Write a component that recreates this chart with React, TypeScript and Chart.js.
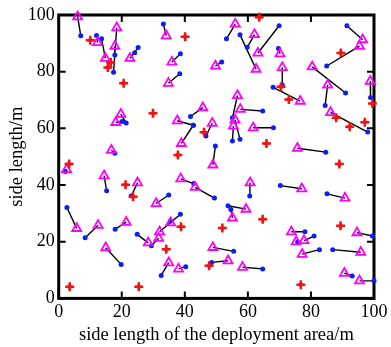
import { useEffect, useRef } from 'react';
import { Chart, registerables } from 'chart.js';

Chart.register(...registerables);

const xTicks = [0, 20, 40, 60, 80, 100];
const yTicks = [0, 20, 40, 60, 80, 100];

// triangles (anchor) and their linked blue nodes, pairwise
const triX = [6.0, 12.3, 14.8, 18.4, 17.8, 22.6, 19.7, 18.1, 16.7, 2.5, 14.4, 34.1, 35.9, 34.8, 37.6, 38.9, 45.7, 48.7, 48.9, 49.7, 56.0, 62.1, 62.6, 63.2, 70.2, 70.9, 76.6, 56.7, 57.6, 55.9, 55.4, 61.7, 75.7, 96.4, 95.4, 80.4, 85.3, 98.8, 86.2, 38.7, 43.3, 25.0, 30.9, 35.5, 32.0, 31.7, 28.4, 34.9, 38.0, 48.9, 53.7, 60.7, 77.1, 90.8, 59.4, 55.1, 73.8, 75.3, 77.8, 77.2, 95.8, 94.6, 90.6, 95.4, 58.3, 5.7, 12.5, 21.4, 14.9];
const triY = [99.4, 90.3, 84.7, 95.5, 89.0, 84.7, 65.0, 62.1, 52.3, 45.5, 43.3, 92.7, 83.4, 75.9, 62.7, 54.7, 67.3, 61.8, 47.1, 82.0, 96.8, 93.1, 80.9, 86.6, 86.3, 81.5, 69.6, 71.6, 66.7, 63.0, 60.8, 60.2, 53.0, 91.3, 89.0, 81.7, 75.3, 76.6, 65.6, 42.2, 39.2, 40.8, 33.5, 26.7, 23.5, 21.2, 19.6, 12.6, 10.4, 18.0, 13.3, 40.8, 38.7, 35.4, 31.5, 28.4, 23.5, 20.0, 20.4, 15.6, 16.3, 23.2, 8.9, 6.2, 11.0, 24.7, 25.8, 26.9, 17.9];
const dotX = [7.0, 12.0, 13.6, 17.4, 17.8, 25.2, 21.4, 20.1, 17.8, 2.1, 15.2, 33.2, 38.6, 38.4, 42.7, 42.7, 41.8, 46.7, 49.7, 51.7, 53.2, 59.8, 57.5, 69.9, 69.7, 70.9, 68.0, 55.1, 64.7, 57.5, 55.1, 68.1, 84.7, 91.4, 85.0, 91.0, 84.5, 98.9, 98.0, 42.8, 49.4, 23.0, 34.9, 35.4, 38.6, 29.4, 24.9, 32.5, 40.3, 55.5, 48.5, 60.6, 70.3, 85.1, 53.7, 54.6, 78.1, 75.8, 81.0, 82.7, 86.9, 99.5, 93.1, 100.0, 64.7, 2.6, 8.4, 17.9, 19.8];
const dotY = [92.7, 92.8, 91.6, 79.8, 85.9, 88.5, 61.9, 62.4, 51.2, 44.8, 38.0, 96.8, 86.3, 79.3, 61.1, 61.1, 64.2, 57.3, 53.8, 83.4, 91.6, 88.6, 93.0, 96.2, 88.2, 75.3, 74.5, 63.7, 66.1, 56.2, 55.5, 60.2, 51.6, 96.2, 82.0, 72.5, 68.1, 70.9, 58.7, 40.5, 35.4, 36.1, 36.5, 27.2, 29.7, 18.6, 22.6, 8.1, 11.2, 16.6, 12.7, 36.1, 39.8, 36.9, 32.7, 31.4, 23.5, 19.9, 22.0, 17.2, 17.2, 22.0, 7.9, 6.2, 10.4, 32.1, 21.4, 24.4, 12.0];
const extraDotX = [24.1];
const extraDotY = [86.7];

// red star markers
const starX = [10.0, 15.6, 16.5, 20.6, 29.9, 3.3, 40.1, 37.8, 46.1, 63.6, 70.5, 73.0, 65.9, 89.0, 89.5, 99.5, 88.0, 92.3, 97.1, 21.2, 23.6, 38.8, 34.1, 25.4, 47.7, 64.7, 51.9, 89.4, 76.8, 3.5];
const starY = [91.1, 81.5, 83.3, 75.9, 65.3, 47.4, 92.3, 50.6, 58.6, 99.2, 74.7, 70.2, 54.7, 47.4, 86.6, 68.8, 63.7, 60.6, 62.2, 40.1, 35.9, 25.3, 17.3, 4.1, 11.5, 27.9, 24.8, 25.6, 4.8, 4.1];

const FONT = '"Liberation Serif", "Times New Roman", serif';

const framePlugin = {
  id: 'frame',
  beforeDatasetsDraw(chart: any) {
    const { ctx, chartArea: a, scales } = chart;
    ctx.save();
    ctx.strokeStyle = '#000';
    ctx.lineWidth = 2;
    const len = 7;
    for (const v of xTicks) {
      const px = scales.x.getPixelForValue(v);
      ctx.beginPath();
      ctx.moveTo(px, a.bottom);
      ctx.lineTo(px, a.bottom - len);
      ctx.moveTo(px, a.top);
      ctx.lineTo(px, a.top + len);
      ctx.stroke();
    }
    for (const v of yTicks) {
      const py = scales.y.getPixelForValue(v);
      ctx.beginPath();
      ctx.moveTo(a.left, py);
      ctx.lineTo(a.left + len, py);
      ctx.moveTo(a.right, py);
      ctx.lineTo(a.right - len, py);
      ctx.stroke();
    }
    ctx.lineWidth = 3;
    ctx.strokeRect(a.left, a.top, a.right - a.left, a.bottom - a.top);
    ctx.restore();
  },
};

export default function App() {
  const ref = useRef<HTMLCanvasElement | null>(null);

  useEffect(() => {
    if (!ref.current) return;
    const links: any[] = [];
    triX.forEach((x, i) => {
      links.push({ x, y: triY[i] });
      links.push({ x: dotX[i], y: dotY[i] });
      links.push({ x: null, y: null });
    });
    const tris = triX.map((x, i) => ({ x, y: triY[i] }));
    const dots = dotX.map((x, i) => ({ x, y: dotY[i] })).concat(extraDotX.map((x, i) => ({ x, y: extraDotY[i] })));
    const stars = starX.map((x, i) => ({ x, y: starY[i] }));

    const chart = new Chart(ref.current, {
      type: 'scatter',
      data: {
        datasets: [
          {
            data: links,
            showLine: true,
            spanGaps: false,
            borderColor: '#000',
            borderWidth: 1.4,
            pointRadius: 0,
            order: 4,
          } as any,
          {
            data: dots,
            pointStyle: 'circle',
            pointRadius: 2.5,
            backgroundColor: '#0a1ef5',
            borderWidth: 0,
            order: 3,
            clip: false,
          } as any,
          {
            data: tris,
            pointStyle: 'triangle',
            pointRadius: 5.2,
            backgroundColor: 'rgba(0,0,0,0)',
            borderColor: '#ff00ff',
            borderWidth: 1.8,
            order: 2,
            clip: false,
          } as any,
          {
            data: stars,
            pointStyle: 'cross',
            pointRadius: 4.5,
            borderColor: '#f01414',
            borderWidth: 2.5,
            order: 1,
            clip: false,
          } as any,
          {
            data: stars,
            pointStyle: 'rectRot',
            pointRadius: 3.2,
            backgroundColor: '#f01414',
            borderWidth: 0,
            order: 0,
            clip: false,
          } as any,
        ],
      },
      options: {
        animation: false,
        responsive: true,
        maintainAspectRatio: false,
        devicePixelRatio: 1,
        layout: { padding: { top: 15, right: 15.6, left: 0, bottom: 0 } },
        plugins: { legend: { display: false }, tooltip: { enabled: false } },
        events: [],
        scales: {
          x: {
            type: 'linear',
            min: 0,
            max: 100,
            afterFit: (s: any) => { s.height = 48.6; },
            grid: { display: false, drawTicks: false },
            border: { display: false },
            ticks: { stepSize: 20, color: '#000', padding: 3.5, font: { family: FONT, size: 18 } },
            title: { display: true, text: 'side length of the deployment area/m', color: '#000', font: { family: FONT, size: 18.5 }, padding: { top: 0, bottom: 1 } },
          },
          y: {
            type: 'linear',
            min: 0,
            max: 100,
            afterFit: (s: any) => { s.width = 58.7; },
            grid: { display: false, drawTicks: false },
            border: { display: false },
            ticks: { stepSize: 20, color: '#000', padding: 4, font: { family: FONT, size: 18 } },
            title: { display: true, text: 'side length/m', color: '#000', font: { family: FONT, size: 18.5 }, padding: { top: 6, bottom: 0 } },
          },
        },
      } as any,
      plugins: [framePlugin],
    });
    return () => chart.destroy();
  }, []);

  return (
    <div style={{ position: 'fixed', left: 0, top: 0, width: 391, height: 347, background: '#fff' }}>
      <canvas ref={ref} />
    </div>
  );
}
